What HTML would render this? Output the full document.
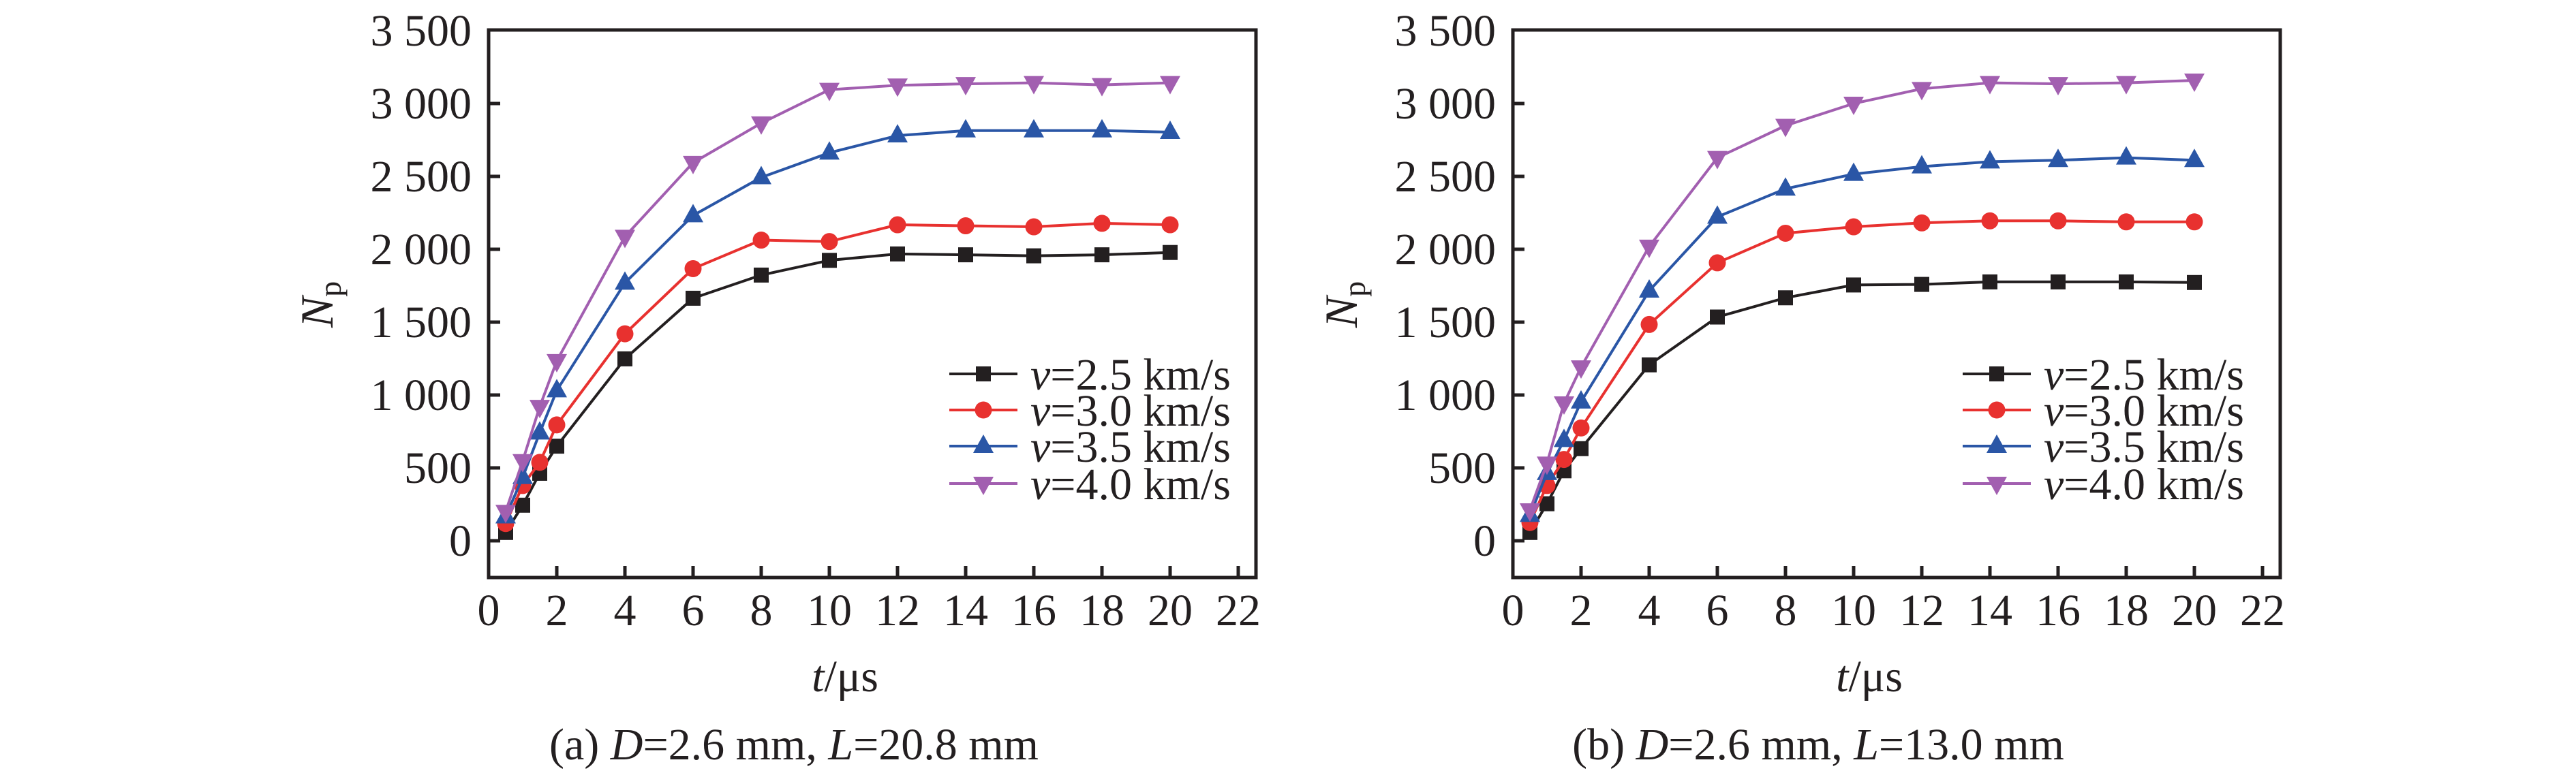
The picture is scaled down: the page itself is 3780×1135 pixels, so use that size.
<!DOCTYPE html>
<html><head><meta charset="utf-8"><style>
html,body{margin:0;padding:0;background:#fff;}
svg{display:block;}
svg text{font-family:"Liberation Serif","Times New Roman","DejaVu Serif",serif;}
</style></head><body>
<svg id="fig" width="3780" height="1135" viewBox="0 0 3780 1135" xmlns="http://www.w3.org/2000/svg" font-family="'Liberation Serif', 'DejaVu Serif', serif">
<rect width="3780" height="1135" fill="#fff"/>
</svg>
<script>
const tValues = [0.5,1,1.5,2,4,6,8,10,12,14,16,18,20];
const seriesLabels = ["2.5","3.0","3.5","4.0"];
const xTicks = [0,2,4,6,8,10,12,14,16,18,20,22];
const yTicks = [0,500,1000,1500,2000,2500,3000,3500];
const yTickLabels = ["0","500","1 000","1 500","2 000","2 500","3 000","3 500"];
const aV25 = [57,244,463,649,1248,1664,1823,1924,1968,1962,1955,1962,1978];
const aV30 = [118,379,538,795,1420,1867,2063,2053,2168,2161,2154,2178,2168];
const aV35 = [166,436,741,1031,1769,2232,2493,2662,2780,2814,2814,2814,2804];
const aV40 = [200,548,920,1234,2087,2594,2865,3095,3125,3135,3142,3128,3142];
const bV25 = [57,254,480,632,1207,1535,1667,1755,1759,1776,1776,1776,1772];
const bV30 = [125,379,558,774,1484,1907,2110,2154,2181,2195,2195,2188,2188];
const bV35 = [176,463,690,954,1715,2222,2415,2516,2567,2601,2611,2628,2611];
const bV40 = [210,531,944,1191,2019,2628,2848,3000,3101,3142,3135,3142,3159];

const NS="http://www.w3.org/2000/svg";
const FONT="Liberation Serif, DejaVu Serif, serif";
const svg=document.getElementById('fig');
const colors=["#231f20","#e8312f","#2a56a6","#a25fb0"];
const markers=["square","circle","triangle-up","triangle-down"];
function mk(tag,attrs,parent){const e=document.createElementNS(NS,tag);for(const k in attrs)e.setAttribute(k,attrs[k]);if(tag==='text')e.setAttribute('font-family',FONT);(parent||svg).appendChild(e);return e;}
function marker(g,type,x,y,c){
  let e;
  if(type==="square") e=mk('rect',{x:x-11,y:y-11,width:22,height:22,fill:c},g);
  else if(type==="circle") e=mk('circle',{cx:x,cy:y,r:12.5,fill:c},g);
  else if(type==="triangle-up") e=mk('polygon',{points:`${x-15},${y+10} ${x+15},${y+10} ${x},${y-17}`,fill:c},g);
  else e=mk('polygon',{points:`${x-15},${y-10} ${x+15},${y-10} ${x},${y+17}`,fill:c},g);
  return e;
}
function chart(id,left,series,legendX,caption){
  const right=left+1126, top=44, bottom=848;
  const xs=t=>left+t*50;
  const ys=v=>794-v*(107/500);
  const g=mk('g',{});
  
  
  yTicks.forEach((v,i)=>{
    const y=ys(v);
    if(v<3500){const tk=mk('line',{x1:left,x2:left+17,y1:y,y2:y,stroke:"#231f20","stroke-width":5},g);
    
    }
    const tx=mk('text',{x:left-25,y:y+22,"font-size":66,"text-anchor":"end",fill:"#231f20"},g);
    tx.textContent=yTickLabels[i];
    
    
  });
  xTicks.forEach(t=>{
    const x=xs(t);
    if(t>0){const tk=mk('line',{x1:x,x2:x,y1:bottom,y2:bottom-17,stroke:"#231f20","stroke-width":5},g);
    
    }
    const tx=mk('text',{x:x,y:918,"font-size":66,"text-anchor":"middle",fill:"#231f20"},g);
    tx.textContent=String(t);
    
    
  });
  const frame=mk('rect',{x:left,y:top,width:right-left,height:bottom-top,fill:"none",stroke:"#231f20","stroke-width":5},g);
  
  
  series.forEach((vals,si)=>{
    const sg=mk('g',{},g);
    
    
    const pts=vals.map((v,i)=>xs(tValues[i])+","+ys(v)).join(" ");
    const pl=mk('polyline',{points:pts,fill:"none",stroke:colors[si],"stroke-width":4},sg);
    
    
    vals.forEach((v,i)=>{
      const m=marker(sg,markers[si],xs(tValues[i]),ys(v),colors[si]);
      
      
    });
  });
  const lg=mk('g',{},g);
  
  
  const rowsY=[549,602,655,710];
  seriesLabels.forEach((lab,si)=>{
    const eg=mk('g',{},lg);
    
    
    const y=rowsY[si];
    mk('line',{x1:legendX,x2:legendX+100,y1:y,y2:y,stroke:colors[si],"stroke-width":4},eg);
    marker(eg,markers[si],legendX+50,y,colors[si]);
    const tx=mk('text',{x:legendX+119,y:y+23,"font-size":66,fill:"#231f20"},eg);
    tx.innerHTML='<tspan font-style="italic">v</tspan>='+lab+' km/s';
  });
  const yt=mk('text',{transform:`translate(${left-229},447) rotate(-90)`,"font-size":68,"text-anchor":"middle",fill:"#231f20"},g);
  yt.innerHTML='<tspan font-style="italic">N</tspan><tspan font-size="46" dy="12">p</tspan>';
  
  
  const xt=mk('text',{x:left+523,y:1015,"font-size":66,"text-anchor":"middle",fill:"#231f20"},g);
  xt.innerHTML='<tspan font-style="italic">t</tspan>/μs';
  
  
  const cp=mk('text',{x:left+448,y:1115,"font-size":66,"text-anchor":"middle",fill:"#231f20"},g);
  cp.innerHTML=caption;
  
  
}
chart('a',717,[aV25,aV30,aV35,aV40],1393,'(a) <tspan font-style="italic">D</tspan>=2.6 mm, <tspan font-style="italic">L</tspan>=20.8 mm');
chart('b',2220,[bV25,bV30,bV35,bV40],2880,'(b) <tspan font-style="italic">D</tspan>=2.6 mm, <tspan font-style="italic">L</tspan>=13.0 mm');
</script>
</body></html>
